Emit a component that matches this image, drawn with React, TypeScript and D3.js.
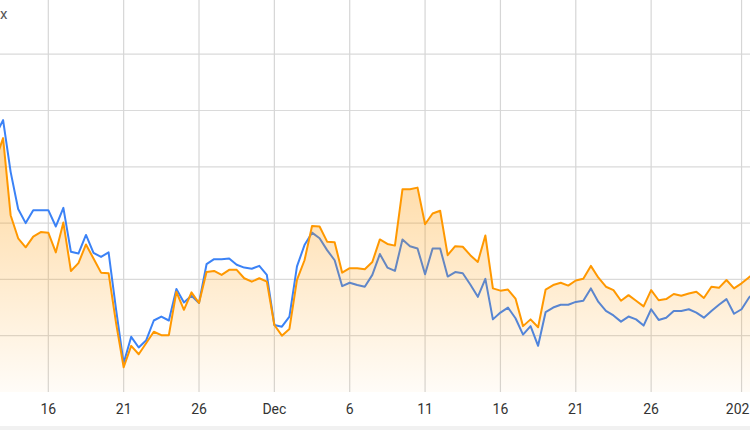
import React from "react";
import * as d3 from "d3";

const START = Date.UTC(2024, 10, 12, 12); // first (half-day) sample, Nov 12 12:00 UTC
const STEP_HOURS = 12;

const seriesBlue = [
  4.56, 4.83, 3.91, 3.25, 3.0, 3.23, 3.23, 3.23, 2.94, 3.27, 2.49, 2.46, 2.79, 2.47, 2.4, 2.48,
  1.46, 0.51, 0.98, 0.79, 0.92, 1.27, 1.34, 1.27, 1.83, 1.59, 1.71, 1.58, 2.27, 2.36, 2.36, 2.37,
  2.26, 2.21, 2.19, 2.24, 2.08, 1.19, 1.16, 1.34, 2.23, 2.61, 2.83, 2.73, 2.52, 2.34, 1.88, 1.94,
  1.9, 1.87, 2.08, 2.45, 2.21, 2.15, 2.71, 2.59, 2.55, 2.09, 2.55, 2.55, 2.05, 2.13, 2.11, 1.91,
  1.69, 2.01, 1.29, 1.41, 1.5, 1.31, 1.02, 1.17, 0.82, 1.42, 1.5, 1.55, 1.55, 1.6, 1.62, 1.84,
  1.6, 1.44, 1.36, 1.25, 1.34, 1.29, 1.18, 1.47, 1.28, 1.32, 1.44, 1.44, 1.47, 1.41, 1.32, 1.44,
  1.55, 1.65, 1.39, 1.47, 1.68, 1.81,
];

const seriesOrange = [
  4.12, 4.51, 3.14, 2.73, 2.57, 2.76, 2.84, 2.83, 2.48, 3.01, 2.15, 2.29, 2.62, 2.37, 2.12, 2.11,
  1.22, 0.44, 0.82, 0.67, 0.87, 1.07, 1.01, 1.01, 1.78, 1.46, 1.77, 1.58, 2.13, 2.15, 2.08, 2.17,
  2.17, 2.02, 1.96, 2.02, 1.96, 1.19, 1.0, 1.12, 1.99, 2.34, 2.95, 2.94, 2.67, 2.66, 2.12, 2.2,
  2.2, 2.18, 2.31, 2.71, 2.63, 2.6, 3.6, 3.6, 3.63, 2.98, 3.17, 3.22, 2.43, 2.59, 2.58, 2.43,
  2.31, 2.78, 1.84, 1.8, 1.82, 1.66, 1.17, 1.29, 1.15, 1.82, 1.9, 1.94, 1.89, 1.98, 2.01, 2.24,
  2.03, 1.87, 1.81, 1.62, 1.72, 1.62, 1.52, 1.81, 1.63, 1.65, 1.74, 1.71, 1.75, 1.78, 1.67, 1.87,
  1.85, 1.99, 1.84, 1.93, 2.04, 2.13,
];

const tickDates = [
  Date.UTC(2024, 10, 16), Date.UTC(2024, 10, 21), Date.UTC(2024, 10, 26), Date.UTC(2024, 11, 1),
  Date.UTC(2024, 11, 6), Date.UTC(2024, 11, 11), Date.UTC(2024, 11, 16), Date.UTC(2024, 11, 21),
  Date.UTC(2024, 11, 26), Date.UTC(2025, 0, 1),
];
const tickLabels = ["16", "21", "26", "Dec", "6", "11", "16", "21", "26", "2025"];
const yGridValues = [1, 2, 3, 4, 5, 6, 7];

const W = 750;
const H = 430;
const DAY = 86400000;

export default function App() {
  const nov16 = Date.UTC(2024, 10, 16);
  const x = d3
    .scaleUtc()
    .domain([new Date(nov16 - 3.205 * DAY), new Date(nov16 + 46.56 * DAY)])
    .range([0, W]);
  const y = d3.scaleLinear().domain([0, 7]).range([392, -2.1]);

  const dates = seriesBlue.map((_, i) => new Date(START + i * STEP_HOURS * 3600000));
  const blueData = seriesBlue.map((v, i) => ({ d: dates[i], v }));
  const orangeData = seriesOrange.map((v, i) => ({ d: dates[i], v }));

  const line = d3
    .line<{ d: Date; v: number }>()
    .x((p) => x(p.d))
    .y((p) => y(p.v));
  const area = d3
    .area<{ d: Date; v: number }>()
    .x((p) => x(p.d))
    .y0(y(0))
    .y1((p) => y(p.v));

  return (
    <svg
      width={W}
      height={H}
      style={{ position: "absolute", left: 0, top: 0, display: "block", background: "#fff" }}
      fontFamily="Roboto, 'Open Sans', sans-serif"
    >
      <defs>
        <linearGradient id="ofill" gradientUnits="userSpaceOnUse" x1="0" y1={100} x2="0" y2={392}>
          <stop offset="0%" stopColor="#ff9800" stopOpacity={0.45} />
          <stop offset="100%" stopColor="#ff9800" stopOpacity={0.03} />
        </linearGradient>
      </defs>
      <rect x={0} y={0} width={W} height={H} fill="#fff" />
      {yGridValues.map((g) => (
        <line key={"h" + g} x1={0} x2={W} y1={y(g)} y2={y(g)} stroke="#dadada" strokeWidth={1.2} />
      ))}
      {tickDates.map((t) => (
        <line key={"v" + t} x1={x(new Date(t))} x2={x(new Date(t))} y1={0} y2={392} stroke="#d6d6d6" strokeWidth={1.2} />
      ))}
      <path d={line(blueData) || ""} fill="none" stroke="#3b82f6" strokeWidth={2} strokeLinejoin="round" />
      <path d={area(orangeData) || ""} fill="url(#ofill)" stroke="none" />
      <path d={line(orangeData) || ""} fill="none" stroke="#ff9800" strokeWidth={2} strokeLinejoin="round" />
      {tickDates.map((t, i) => (
        <text
          key={"t" + t}
          x={x(new Date(t))}
          y={414}
          textAnchor="middle"
          fontSize={14}
          fill="#333"
        >
          {tickLabels[i]}
        </text>
      ))}
      <text x={0} y={19} fontSize={15} fill="#555">
        x
      </text>
      <rect x={0} y={426} width={W} height={4} fill="#f1f1f1" />
    </svg>
  );
}
